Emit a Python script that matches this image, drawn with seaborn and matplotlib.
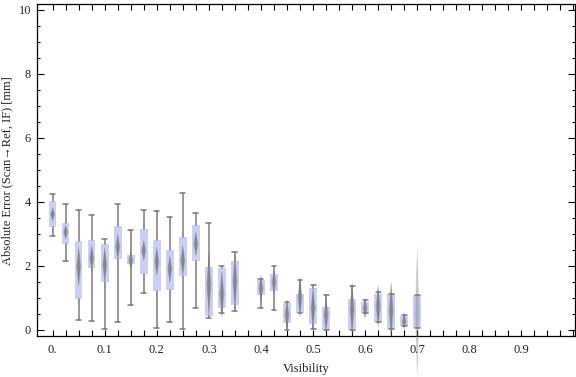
import matplotlib
matplotlib.use("Agg")
import matplotlib.pyplot as plt
import seaborn as sns
import numpy as np
import pandas as pd

# ---- data ----
visibility = [0.0, 0.025, 0.05, 0.075, 0.1, 0.125, 0.15, 0.175, 0.2, 0.225, 0.25, 0.275,
              0.3, 0.325, 0.35, 0.4, 0.425, 0.45, 0.475, 0.5, 0.525, 0.575, 0.6, 0.625,
              0.65, 0.675, 0.7]
whisker_hi = [4.24, 3.93, 3.74, 3.59, 2.83, 3.93, 3.11, 3.74, 3.71, 3.52, 4.27, 3.65,
              3.33, 1.99, 2.43, 1.59, 1.99, 0.86, 1.56, 1.40, 1.08, 1.37, 0.92, 1.19,
              1.12, 0.46, 1.09]
q3 = [4.03, 3.34, 2.78, 2.81, 2.69, 3.25, 2.34, 3.16, 2.81, 2.50, 2.91, 3.28,
      1.96, 1.94, 2.16, 1.56, 1.75, 0.84, 1.12, 1.31, 0.72, 0.97, 0.86, 1.13,
      1.12, 0.44, 1.09]
q1 = [3.23, 2.67, 0.98, 1.95, 1.51, 2.23, 2.06, 1.76, 1.23, 1.26, 1.70, 2.14,
      0.42, 0.67, 0.79, 1.10, 1.23, 0.23, 0.53, 0.20, 0.01, 0.01, 0.54, 0.26,
      0.04, 0.11, 0.05]
whisker_lo = [2.93, 2.16, 0.30, 0.27, 0.02, 0.24, 0.77, 1.15, 0.05, 0.24, 0.02, 0.69,
              0.36, 0.52, 0.59, 0.69, 0.61, 0.0, 0.52, 0.03, 0.0, 0.0, 0.52, 0.26,
              0.04, 0.11, 0.05]
mean = [3.61, 3.05, 1.98, 2.24, 2.03, 2.60, 2.17, 2.48, 2.14, 1.90, 2.17, 2.69,
        1.41, 1.12, 1.51, 1.30, 1.49, 0.47, 1.02, 0.68, 0.47, 0.65, 0.68, 0.73,
        0.60, 0.27, 0.57]
ci95 = [0.22, 0.23, 0.63, 0.42, 0.57, 0.42, 0.29, 0.34, 0.47, 0.44, 0.49, 0.39,
        1.04, 0.75, 0.89, 0.42, 0.39, 0.49, 0.65, 0.68, 0.57, 0.85, 0.32, 0.68,
        0.91, 0.26, 2.09]

xtick_values = [0.0, 0.1, 0.2, 0.3, 0.4, 0.5, 0.6, 0.7, 0.8, 0.9]
xtick_labels = ["0.", "0.1", "0.2", "0.3", "0.4", "0.5", "0.6", "0.7", "0.8", "0.9"]
ytick_values = [0, 2, 4, 6, 8, 10]

df = pd.DataFrame(dict(vis=visibility, lo=whisker_lo, q1=q1, q3=q3, hi=whisker_hi,
                       mean=mean, ci=ci95))

# ---- style ----
sns.set_theme(style="white")
plt.rcParams['font.family'] = ['Liberation Serif', 'DejaVu Serif']
plt.rcParams['font.size'] = 9

fig = plt.figure(figsize=(5.76, 3.77), dpi=100)
ax = fig.add_axes([0.0634, 0.1088, 0.9357, 0.8793])

box_color = "#c9d0f5"
whisk_color = "#7a7a7a"

stats = [dict(med=r.mean, q1=r.q1, q3=r.q3, whislo=r.lo, whishi=r.hi, fliers=[])
         for r in df.itertuples()]
ax.bxp(stats, positions=df["vis"].values, widths=0.0145, patch_artist=True,
       showfliers=False, manage_ticks=False,
       boxprops=dict(facecolor=box_color, edgecolor="none", linewidth=0),
       whiskerprops=dict(color=whisk_color, linewidth=1.1),
       capprops=dict(color=whisk_color, linewidth=1.1),
       medianprops=dict(linewidth=0, color="none"),
       capwidths=0.0095)

# mean / confidence diamonds (soft: a wide faint layer under a narrow darker one)
for hw, base_alpha in [(0.0050, 0.35), (0.0032, 0.75)]:
    for r in df.itertuples():
        xs = [r.vis - hw, r.vis, r.vis + hw, r.vis]
        ys = [r.mean, r.mean + r.ci, r.mean, r.mean - r.ci]
        alpha = base_alpha if r.ci < 1.5 else base_alpha * 0.4
        ax.fill(xs, ys, color="#777777", alpha=alpha, linewidth=0, zorder=3,
                clip_on=(r.ci < 1.5))

ax.set_xlim(-0.031, 1.004)
ax.set_ylim(-0.19, 10.17)

ax.set_xticks(xtick_values)
ax.set_xticklabels(xtick_labels)
ax.set_xticks(np.arange(0, 1.0001, 0.025), minor=True)
ax.set_yticks(ytick_values)
ax.set_yticks(np.arange(0, 10.01, 0.5), minor=True)

ax.tick_params(which="both", direction="in", top=True, right=True,
               bottom=True, left=True, color="black", width=0.8,
               labelsize=9, labelcolor="#222222")
ax.tick_params(axis="x", which="both", length=4, pad=6)
ax.tick_params(axis="y", which="major", length=5, pad=4)
ax.tick_params(axis="y", which="minor", length=2.5)

for s in ax.spines.values():
    s.set_color("black")
    s.set_linewidth(0.9)
    s.set_visible(True)

ax.set_xlabel("Visibility", fontsize=9, color="#222222", labelpad=5)
ax.set_ylabel("Absolute Error (Scan\u2192Ref, IF) [mm]", fontsize=9, color="#222222",
              labelpad=4)
ax.grid(False)

fig.savefig("out.png", dpi=100)
